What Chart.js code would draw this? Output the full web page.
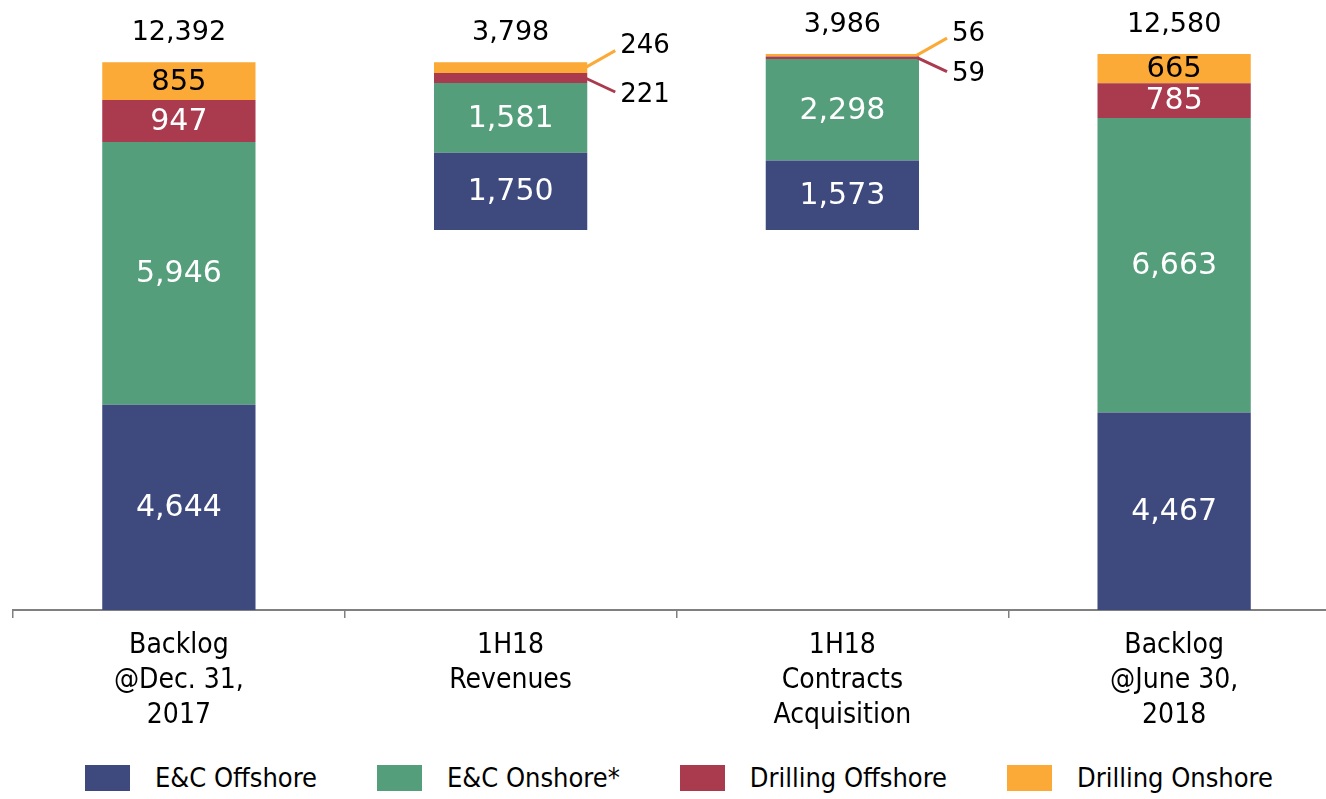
<!DOCTYPE html>
<html>
<head>
<meta charset="utf-8">
<script src="https://cdn.jsdelivr.net/npm/chart.js@4.4.0/dist/chart.umd.min.js"></script>
<style>
  html, body { margin: 0; padding: 0; background: #fff; overflow: hidden; }
  #wrap { width: 1340px; height: 743px; position: relative; }
  #legend {
    position: absolute; left: 85px; width: 1188px; top: 762px;
    display: flex; justify-content: space-between; align-items: center;
    font-family: "DejaVu Sans Condensed", "Liberation Sans Narrow", "DejaVu Sans", sans-serif;
    font-size: 27px; color: #000;
  }
  #legend .item { display: flex; align-items: center; white-space: nowrap; }
  #legend .box { width: 45px; height: 26px; margin-right: 25px; }
</style>
</head>
<body>
<div id="wrap"><canvas id="myChart"></canvas></div>
<div id="legend"></div>
<script>
  // Data
  const categories = [
    ['Backlog', '@Dec. 31,', '2017'],
    ['1H18', 'Revenues'],
    ['1H18', 'Contracts', 'Acquisition'],
    ['Backlog', '@June 30,', '2018']
  ];
  const seriesNames = ['E&C Offshore', 'E&C Onshore*', 'Drilling Offshore', 'Drilling Onshore'];
  const ecOffshore = [4644, 1750, 1573, 4467];
  const ecOnshore = [5946, 1581, 2298, 6663];
  const drillOffshore = [947, 221, 59, 785];
  const drillOnshore = [855, 246, 56, 665];

  const totals = categories.map((c, i) => ecOffshore[i] + ecOnshore[i] + drillOffshore[i] + drillOnshore[i]);
  // floating bars for the bridge: revenues go down from the opening backlog, acquisitions go back up
  const floatBase = [0, totals[0] - totals[1], totals[0] - totals[1], 0];

  const colors = ['#3E4A7E', '#559E7C', '#AA3B4F', '#FBAA37'];
  const condensed = '"DejaVu Sans Condensed", "Liberation Sans Narrow", "DejaVu Sans", sans-serif';
  const numFont = '"DejaVu Sans", sans-serif';

  const fmt = v => v.toLocaleString('en-US');

  const labelPlugin = {
    id: 'segLabels',
    afterDatasetsDraw(chart) {
      const ctx = chart.ctx;
      ctx.save();
      for (let d = 1; d <= 4; d++) {
        const meta = chart.getDatasetMeta(d);
        meta.data.forEach((bar, i) => {
          const v = chart.data.datasets[d].data[i];
          const h = Math.abs(bar.base - bar.y);
          const midY = (bar.y + bar.base) / 2;
          if (h > 20) {
            ctx.fillStyle = d === 4 ? '#000' : '#fff';
            ctx.font = (d === 4 ? '29px ' : '30px ') + numFont;
            ctx.textAlign = 'center';
            ctx.textBaseline = 'middle';
            ctx.fillText(fmt(v), bar.x, midY + 1);
          } else {
            // small slices get a leader line and an outside label
            const rx = bar.x + bar.width / 2;
            const up = d === 4;
            ctx.strokeStyle = colors[d - 1];
            ctx.lineWidth = 3;
            ctx.beginPath();
            ctx.moveTo(rx - 2, midY);
            ctx.lineTo(rx + 28, up ? midY - 17 : midY + 14);
            ctx.stroke();
            ctx.fillStyle = '#000';
            ctx.font = '26px ' + numFont;
            ctx.textAlign = 'left';
            ctx.textBaseline = 'middle';
            ctx.fillText(fmt(v), rx + 33, up ? midY - 21 : midY + 17);
          }
        });
      }
      // totals above the bars
      const top = chart.getDatasetMeta(4);
      top.data.forEach((bar, i) => {
        ctx.fillStyle = '#000';
        ctx.font = '27px ' + numFont;
        ctx.textAlign = 'center';
        ctx.textBaseline = 'middle';
        ctx.fillText(fmt(totals[i]), bar.x, bar.y - 29);
      });
      ctx.restore();
    }
  };

  const data = {
    labels: categories,
    datasets: [
      { label: 'base', data: floatBase, backgroundColor: 'rgba(0,0,0,0)' },
      { label: seriesNames[0], data: ecOffshore, backgroundColor: colors[0] },
      { label: seriesNames[1], data: ecOnshore, backgroundColor: colors[1] },
      { label: seriesNames[2], data: drillOffshore, backgroundColor: colors[2] },
      { label: seriesNames[3], data: drillOnshore, backgroundColor: colors[3] }
    ]
  };

  const config = {
    type: 'bar',
    data,
    options: {
      responsive: true,
      maintainAspectRatio: false,
      animation: false,
      devicePixelRatio: 1,
      layout: { padding: { left: 13, right: 0, top: 0, bottom: 0 } },
      datasets: {
        bar: { barPercentage: 0.462, categoryPercentage: 1, borderWidth: 0 }
      },
      scales: {
        x: {
          stacked: true,
          grid: { offset: true, drawOnChartArea: false, drawTicks: true, tickLength: 8, color: '#808080', lineWidth: 1.5 },
          border: { display: true, color: '#808080', width: 2 },
          ticks: { color: '#000', padding: 10, maxRotation: 0, font: { family: condensed, size: 28, lineHeight: 1.25 } }
        },
        y: { stacked: true, display: false, min: 0, max: 13800 }
      },
      plugins: {
        tooltip: { enabled: false },
        legend: { display: false }
      }
    },
    plugins: [labelPlugin]
  };

  var myChart = new Chart(document.getElementById('myChart'), config);

  // legend below the chart
  const legendEl = document.getElementById('legend');
  data.datasets.slice(1).forEach(ds => {
    const item = document.createElement('div');
    item.className = 'item';
    const box = document.createElement('span');
    box.className = 'box';
    box.style.background = ds.backgroundColor;
    const txt = document.createElement('span');
    txt.textContent = ds.label;
    item.appendChild(box);
    item.appendChild(txt);
    legendEl.appendChild(item);
  });
</script>
</body>
</html>
